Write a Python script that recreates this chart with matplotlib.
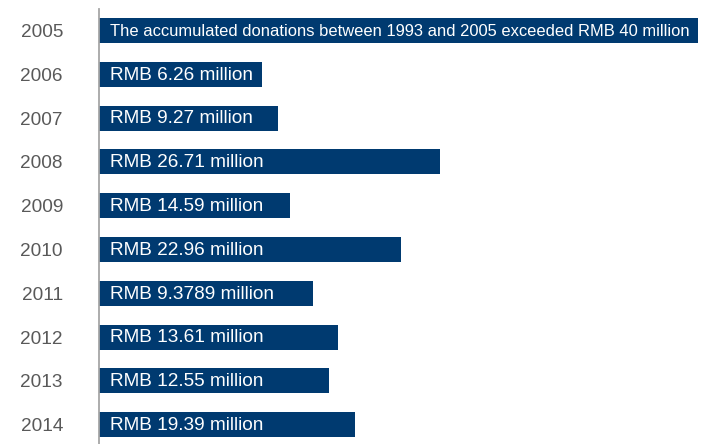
import matplotlib
matplotlib.use("Agg")
import matplotlib.pyplot as plt

years = ["2005", "2006", "2007", "2008", "2009", "2010", "2011", "2012", "2013", "2014"]
labels = [
    "The accumulated donations between 1993 and 2005 exceeded RMB 40 million",
    "RMB 6.26 million", "RMB 9.27 million", "RMB 26.71 million", "RMB 14.59 million",
    "RMB 22.96 million", "RMB 9.3789 million", "RMB 13.61 million", "RMB 12.55 million",
    "RMB 19.39 million",
]
# bar lengths as drawn in the original (arbitrary units)
bar_length = [599, 163, 179, 341, 191, 302, 214, 239, 230, 256]

plt.rcParams['font.family'] = ['Liberation Sans', 'DejaVu Sans']

fig = plt.figure(figsize=(7.01, 4.44), dpi=100)
ax = fig.add_axes([99 / 701, 0, 602 / 701, 1])

pos = list(range(len(years)))
ax.barh(pos, bar_length, height=0.57, color="#003A70", left=0)

for i, (lab, L) in enumerate(zip(labels, bar_length)):
    fs = 11.85 if i == 0 else 13.7
    ax.text(11, i + 0.02, lab, color="white", fontsize=fs, va="center", ha="left")

ax.set_xlim(0, 602)
sp = 43.8
ax.set_ylim((444 - 30.5) / sp, -30.5 / sp)
ax.set_yticks(pos)
ax.set_yticklabels(years, fontsize=13.7, color="#595959")
ax.tick_params(axis="y", length=0, pad=26)
ax.set_xticks([])
for s in ["top", "right", "bottom"]:
    ax.spines[s].set_visible(False)
ax.spines["left"].set_color("#A6A6A6")
ax.spines["left"].set_linewidth(1.3)
ax.spines["left"].set_bounds(-0.49, (444 - 30.5) / sp)

fig.savefig("out.png", dpi=100)
